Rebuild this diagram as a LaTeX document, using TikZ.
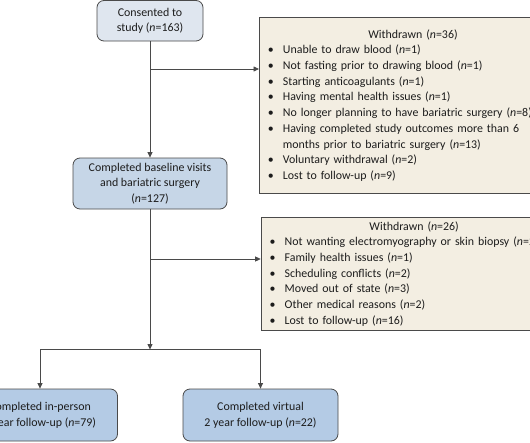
\documentclass[tikz,border=0pt]{standalone}
\usepackage{fontspec}
\setmainfont{Carlito}
\usetikzlibrary{arrows.meta}
\definecolor{boxA}{HTML}{DFE6EF}
\definecolor{boxB}{HTML}{C6D6E7}
\definecolor{boxC}{HTML}{B4CBE5}
\definecolor{beige}{HTML}{F3EEE2}
\definecolor{edge}{HTML}{4A4A4A}
\definecolor{ink}{HTML}{1C1C1C}
\newcommand{\nn}[1]{(\textit{n}=#1)}
\newcommand{\bul}{\makebox[15pt][l]{\textbullet}}
\newcommand{\cont}{\hspace*{15pt}}
\begin{document}
\begin{tikzpicture}[x=1pt,y=-1pt,
  txt/.style={font=\fontsize{11.9}{15.7}\selectfont, text=ink},
  flowbox/.style={txt, draw=edge, line width=0.8pt, rounded corners=7pt, align=center, inner sep=0pt},
  wbox/.style={txt, draw=edge, line width=0.9pt, fill=beige, anchor=north west, align=left, inner xsep=8.5pt, inner ysep=0pt},
  conn/.style={draw=edge, line width=0.8pt, -{Triangle[length=5.5pt,width=5pt]}},
  plain/.style={draw=edge, line width=0.8pt}]
\useasboundingbox (0,0) rectangle (530,442);
\clip (0,0) rectangle (530,442);
\fill[white] (0,0) rectangle (530,442);

\node[flowbox, fill=boxA, minimum width=106pt, minimum height=40.5pt] (c1) at (150,20.75)
  {Consented to\\study \nn{163}};
\node[flowbox, fill=boxB, minimum width=154pt, minimum height=51pt] (c2) at (150,183.5)
  {Completed baseline visits\\and bariatric surgery\\\nn{127}};
\node[flowbox, fill=boxC, minimum width=155pt, minimum height=52pt] (b1) at (40,415)
  {Completed in-person\\2 year follow-up \nn{79}};
\node[flowbox, fill=boxC, minimum width=155pt, minimum height=52pt] (b2) at (260.5,415)
  {Completed virtual\\2 year follow-up \nn{22}};

\node[wbox, text width=290pt, minimum height=175.4pt] (w1) at (259,17.3)
  {\makebox[\linewidth]{Withdrawn \nn{36}}\\
   \bul Unable to draw blood \nn{1}\\
   \bul Not fasting prior to drawing blood \nn{1}\\
   \bul Starting anticoagulants \nn{1}\\
   \bul Having mental health issues \nn{1}\\
   \bul No longer planning to have bariatric surgery \nn{8}\\
   \bul Having completed study outcomes more than 6\\
   \cont months prior to bariatric surgery \nn{13}\\
   \bul Voluntary withdrawal \nn{2}\\
   \bul Lost to follow-up \nn{9}};
\node[wbox, text width=289pt, minimum height=113.3pt] (w2) at (260.7,216.7)
  {\makebox[\linewidth]{Withdrawn \nn{26}}\\
   \bul Not wanting electromyography or skin biopsy \nn{2}\\
   \bul Family health issues \nn{1}\\
   \bul Scheduling conflicts \nn{2}\\
   \bul Moved out of state \nn{3}\\
   \bul Other medical reasons \nn{2}\\
   \bul Lost to follow-up \nn{16}};

\coordinate (j1) at (150,69);
\coordinate (j2) at (150,259);
\coordinate (j3) at (150,349.5);
\coordinate (l3) at (40,349.5);
\coordinate (r3) at (260.5,349.5);

\draw[conn] (c1.south) -- (c2.north);
\draw[conn] (j1) -- (j1 -| w1.west);
\draw[conn] (c2.south) -- (j3);
\draw[conn] (j2) -- (j2 -| w2.west);
\draw[plain] (l3) -- (r3);
\draw[conn] (l3) -- (b1.north);
\draw[conn] (r3) -- (b2.north);
\end{tikzpicture}
\end{document}
